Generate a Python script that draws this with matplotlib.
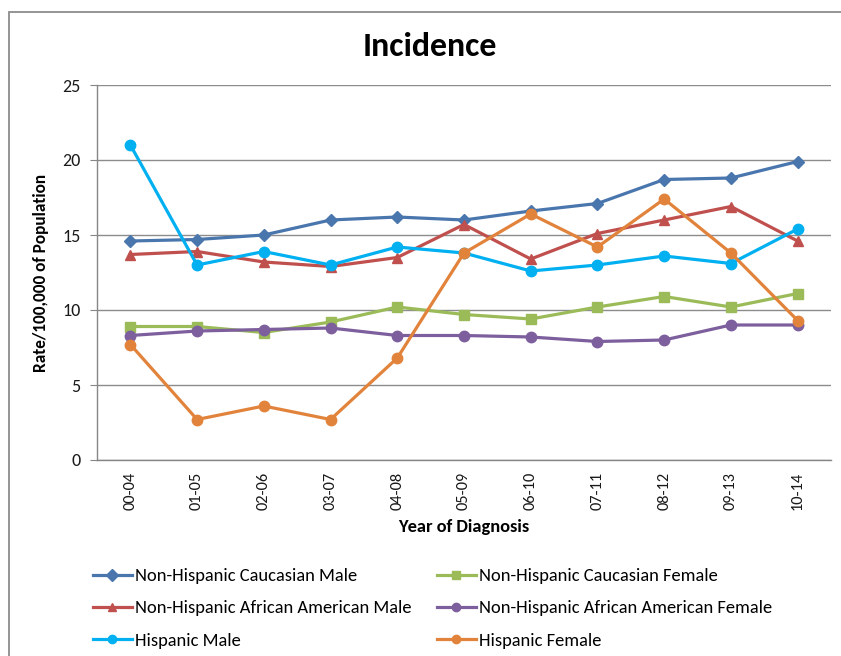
import matplotlib
matplotlib.use("Agg")
import matplotlib.pyplot as plt
from matplotlib.patches import Rectangle

plt.rcParams['font.family'] = ['Carlito', 'DejaVu Sans']

categories = ["00-04", "01-05", "02-06", "03-07", "04-08", "05-09",
              "06-10", "07-11", "08-12", "09-13", "10-14"]

nh_cauc_male = [14.6, 14.7, 15.0, 16.0, 16.2, 16.0, 16.6, 17.1, 18.7, 18.8, 19.9]
nh_cauc_female = [8.9, 8.9, 8.5, 9.2, 10.2, 9.7, 9.4, 10.2, 10.9, 10.2, 11.1]
nh_afam_male = [13.7, 13.9, 13.2, 12.9, 13.5, 15.7, 13.4, 15.1, 16.0, 16.9, 14.6]
nh_afam_female = [8.3, 8.6, 8.7, 8.8, 8.3, 8.3, 8.2, 7.9, 8.0, 9.0, 9.0]
hisp_male = [21.0, 13.0, 13.9, 13.0, 14.2, 13.8, 12.6, 13.0, 13.6, 13.1, 15.4]
hisp_female = [7.7, 2.7, 3.6, 2.7, 6.8, 13.8, 16.4, 14.2, 17.4, 13.8, 9.3]

series_names = ["Non-Hispanic Caucasian Male", "Non-Hispanic Caucasian Female",
                "Non-Hispanic African American Male", "Non-Hispanic African American Female",
                "Hispanic Male", "Hispanic Female"]
yticks = [0, 5, 10, 15, 20, 25]

W, H = 841, 656
fig = plt.figure(figsize=(W / 100, H / 100), dpi=100)
ax = fig.add_axes([97 / W, 1 - 460 / H, (831 - 97) / W, (460 - 85) / H])

styles = [
    (nh_cauc_male, '#4A76AE', 'D', 6),
    (nh_cauc_female, '#9BBB59', 's', 7),
    (nh_afam_male, '#C0504D', '^', 7.5),
    (nh_afam_female, '#7D5F9E', 'o', 7.5),
    (hisp_male, '#00B0F0', 'o', 7.5),
    (hisp_female, '#E2833C', 'o', 7.5),
]
x = list(range(len(categories)))
handles = []
for (vals, col, mk, ms), name in zip(styles, series_names):
    h, = ax.plot(x, vals, color=col, lw=2.3, marker=mk, markersize=ms,
                 markerfacecolor=col, markeredgecolor=col, label=name, zorder=3)
    handles.append(h)

ax.set_xlim(-0.5, len(categories) - 0.5)
ax.set_ylim(0, 25)
ax.set_yticks(yticks)
ax.set_xticks(x)
ax.set_xticklabels(categories, rotation=90, fontsize=11.8, color='#1a1a1a')
ax.tick_params(axis='y', labelsize=13, length=5, color='#868686', pad=7, labelcolor='#1a1a1a')
ax.tick_params(axis='x', length=0, pad=8.5)
ax.yaxis.grid(True, color='#8C8C8C', lw=1)
ax.set_axisbelow(True)
for s in ['top', 'right']:
    ax.spines[s].set_visible(False)
for s in ['left', 'bottom']:
    ax.spines[s].set_color('#868686')
    ax.spines[s].set_linewidth(1)

ax.set_xlabel("Year of Diagnosis", fontsize=13.2, fontweight='bold', labelpad=6.5)
ax.set_ylabel("Rate/100,000 of Population", fontsize=12.4, fontweight='bold', labelpad=9)
fig.text(430 / W, 1 - 46 / H, "Incidence", ha='center', va='center',
         fontsize=24.5, fontweight='bold')

legkw = dict(frameon=False, fontsize=13.3, handlelength=2.1, handletextpad=0.16,
             labelspacing=0.88, borderaxespad=0, borderpad=0)
leg1 = fig.legend([handles[0], handles[2], handles[4]],
                  [series_names[0], series_names[2], series_names[4]],
                  loc='upper left', bbox_to_anchor=(93 / W, 1 - 568 / H), **legkw)
leg2 = fig.legend([handles[1], handles[3], handles[5]],
                  [series_names[1], series_names[3], series_names[5]],
                  loc='upper left', bbox_to_anchor=(437 / W, 1 - 568 / H), **legkw)
for leg in (leg1, leg2):
    for lh in leg.legend_handles:
        lh.set_markersize(6)

fig.patches.append(Rectangle((8.5 / W, -0.1), 1.2, 1 - 12 / H + 0.1,
                             transform=fig.transFigure, fill=False,
                             edgecolor='#8C8C8C', lw=1.3))

fig.savefig("out.png", dpi=100)
